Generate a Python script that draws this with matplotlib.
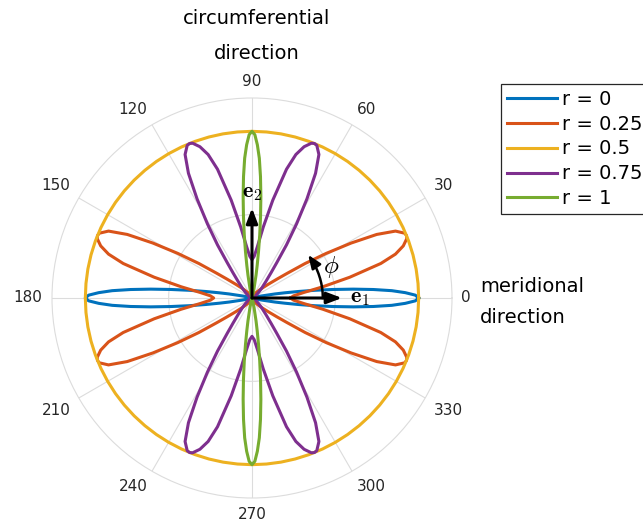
import numpy as np
import matplotlib
matplotlib.use("Agg")
import matplotlib.pyplot as plt

plt.rcParams['mathtext.fontset'] = 'cm'

# quarter of each curve (0..90 deg), the rest follows from the symmetry
labels = ["r = 0", "r = 0.25", "r = 0.5", "r = 0.75", "r = 1"]
colors = ["#0072BD", "#D95319", "#EDB120", "#7E2F8E", "#77AC30"]
tick_deg = [0, 30, 60, 90, 120, 150, 180, 210, 240, 270, 300, 330]

blue_phi = [0, 1, 2, 3, 4, 5, 6, 7, 8, 9, 10, 12, 14, 17, 20, 30, 60, 90]
blue_rho = [1.0, 0.98, 0.92, 0.84, 0.73, 0.61, 0.49, 0.38, 0.28, 0.20, 0.14,
            0.06, 0.02, 0.005, 0.0, 0.0, 0.0, 0.0]

orange_phi = [0, 3, 6, 9, 12, 15, 17, 19, 21, 22, 23, 25, 27, 29, 31, 33,
              35, 37, 40, 45, 50, 60, 75, 90]
orange_rho = [0.23, 0.25, 0.31, 0.43, 0.60, 0.80, 0.90, 0.96, 0.995, 1.0,
              0.995, 0.95, 0.84, 0.68, 0.52, 0.38, 0.26, 0.19, 0.13, 0.08,
              0.05, 0.025, 0.01, 0.01]

yellow_phi = [0, 5, 10, 15, 20, 25, 30, 35, 40, 45, 50, 55, 60, 65, 70, 75,
              80, 85, 90]
yellow_rho = [1.0, 1.0, 1.0, 1.0, 1.0, 1.0, 1.0, 1.0, 1.0, 1.0, 1.0, 1.0,
              1.0, 1.0, 1.0, 1.0, 1.0, 1.0, 1.0]

purple_phi = [0, 15, 30, 40, 45, 50, 53, 55, 57, 59, 61, 63, 65, 67, 68, 69,
              71, 73, 75, 78, 81, 84, 87, 90]
purple_rho = [0.01, 0.01, 0.025, 0.05, 0.08, 0.13, 0.19, 0.26, 0.38, 0.52,
              0.68, 0.84, 0.95, 0.995, 1.0, 0.995, 0.96, 0.90, 0.80, 0.60,
              0.43, 0.31, 0.25, 0.23]

green_phi = [0, 30, 60, 70, 73, 76, 78, 80, 81, 82, 83, 84, 85, 86, 87, 88,
             89, 90]
green_rho = [0.0, 0.0, 0.0, 0.0, 0.005, 0.02, 0.06, 0.14, 0.20, 0.28, 0.38,
             0.49, 0.61, 0.73, 0.84, 0.92, 0.98, 1.0]

curves = [(blue_phi, blue_rho), (orange_phi, orange_rho),
          (yellow_phi, yellow_rho), (purple_phi, purple_rho),
          (green_phi, green_rho)]


def full_curve(phi_q, rho_q):
    """mirror one quadrant into the full circle"""
    p = np.asarray(phi_q, float)
    r = np.asarray(rho_q, float)
    th = np.concatenate([p, 180 - p[::-1], 180 + p, 360 - p[::-1]])
    rr = np.concatenate([r, r[::-1], r, r[::-1]])
    return np.deg2rad(th), rr


fig = plt.figure(figsize=(6.43, 5.30), dpi=100)
ax = fig.add_axes([52 / 643, 32 / 530, 400 / 643, 400 / 530],
                  projection='polar')

for (p, r), c, lab in zip(curves, colors, labels):
    th, rr = full_curve(p, r)
    ax.plot(th, rr, color=c, lw=2.2, label=lab)

ax.set_rlim(0, 1.2)
ax.set_rticks([0.5, 1.0])
ax.set_yticklabels([])
ax.set_thetagrids(tick_deg, labels=[str(d) for d in tick_deg], fontsize=11,
                  color='#262626')
ax.tick_params(axis='x', pad=-3.7)
# labels sit with their near edge at the circle, like the original
for d, t in zip(tick_deg, ax.xaxis.get_major_ticks()):
    c, s = np.cos(np.deg2rad(d)), np.sin(np.deg2rad(d))
    t.label1.set_ha('left' if c > 0.1 else 'right' if c < -0.1 else 'center')
    t.label1.set_va('bottom' if s > 0.1 else 'top' if s < -0.1 else 'center')
ax.grid(color='#dcdcdc', lw=0.8)
ax.spines['polar'].set_color('#dcdcdc')
ax.spines['polar'].set_linewidth(0.8)

# basis vectors and angle
arrow = dict(arrowstyle='-|>,head_length=0.45,head_width=0.17',
             color='k', lw=2.2, mutation_scale=20, shrinkA=0, shrinkB=0)
ax.annotate('', xy=(0, 0.54), xytext=(0, 0), arrowprops=arrow, zorder=5)
ax.annotate('', xy=(np.pi / 2, 0.54), xytext=(0, 0), arrowprops=arrow,
            zorder=5)
arc_deg = [0, 4, 8, 12, 16, 20, 24, 28, 32]
ax.plot(np.deg2rad(arc_deg), [0.425] * len(arc_deg), color='k', lw=1.8,
        zorder=5)
ax.annotate('', xy=(np.deg2rad(37.5), 0.425),
            xytext=(np.deg2rad(32), 0.425),
            arrowprops=dict(arrowstyle='-|>,head_length=0.5,head_width=0.2',
                            color='k', lw=1.8, mutation_scale=16,
                            shrinkA=0, shrinkB=0), zorder=5)
ax.text(0, 0.645, r'$\mathbf{e}_1$', fontsize=16, ha='center', va='center')
ax.text(np.pi / 2, 0.63, r'$\mathbf{e}_2$', fontsize=16, ha='center',
        va='center')
ax.text(np.deg2rad(21.7), 0.51, r'$\phi$', fontsize=18, ha='center',
        va='center')

fig.text(257 / 643, 1 - 36 / 530, 'circumferential\ndirection', fontsize=14,
         ha='center', va='center', linespacing=2.1)
fig.text(480 / 643, 1 - 302 / 530, 'meridional\ndirection', fontsize=14,
         ha='left', va='center', linespacing=1.85)

leg = ax.legend(loc='upper left', bbox_to_anchor=(501 / 643, 1 - 84 / 530),
                bbox_transform=fig.transFigure, fontsize=14,
                borderaxespad=0, borderpad=0.3, labelspacing=0.3,
                handlelength=2.6, handletextpad=0.25, fancybox=False,
                framealpha=1, edgecolor='#262626')
leg.get_frame().set_linewidth(0.9)

fig.savefig('out.png', dpi=100)
